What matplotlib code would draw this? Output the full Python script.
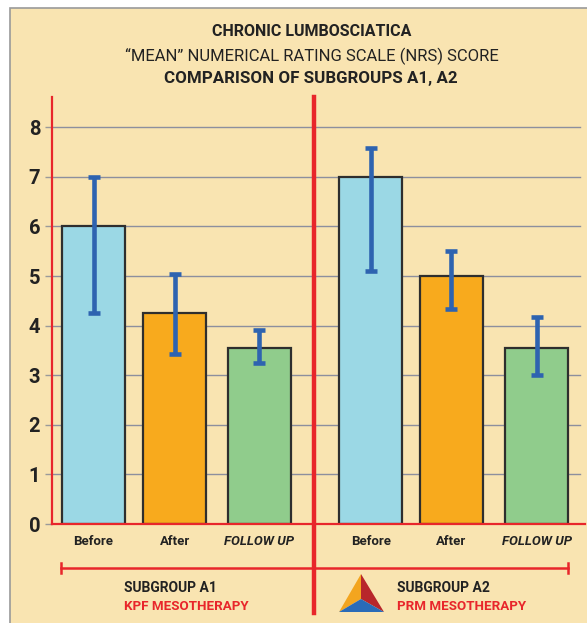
import numpy as np
import matplotlib.pyplot as plt
from matplotlib.patches import Rectangle, Polygon
from matplotlib.lines import Line2D

# data
# ---
categories = ['Before', 'After', 'FOLLOW UP', 'Before', 'After', 'FOLLOW UP']
means = [6.0, 4.25, 3.55, 7.0, 5.0, 3.55]
err_low = [4.25, 3.42, 3.25, 5.1, 4.33, 3.0]
err_high = [7.0, 5.05, 3.92, 7.58, 5.5, 4.17]
yticks = [0, 1, 2, 3, 4, 5, 6, 7, 8]

# styles
bg = '#f9e4b1'
red = '#e8262b'
blue_err = '#2e63b0'
bar_colours = ['#9bd8e5', '#f8aa1d', '#90cc8c'] * 2
xpos = [0, 0.99, 2.02, 3.38, 4.36, 5.40]
W, H = 587, 623
font = ['Roboto', 'DejaVu Sans']

fig = plt.figure(figsize=(W / 100, H / 100), dpi=100)
fig.patch.set_facecolor('white')

# tan panel with grey frame
fig.patches.append(Rectangle((10 / W, -0.01), 1, 1.01 - 8 / H, transform=fig.transFigure,
                             facecolor=bg, edgecolor='#9a9a9a', lw=1.2, zorder=-5))

def fx(px):
    return px / W

def fy(py):
    return 1 - py / H

ax = fig.add_axes([fx(52), fy(524), fx(585) - fx(52), fy(97) - fy(524)])
ax.set_zorder(2)
ax.set_facecolor('none')
ax.set_xlim(-0.506, 5.99)
ax.set_ylim(0, 8.61)

# grid lines
for t in yticks[1:]:
    ax.axhline(t, xmax=(580 - 52) / (585 - 52), color='#8d8f9e', lw=1.0, zorder=1)

ax.bar(xpos, means, width=0.77, color=bar_colours, edgecolor='#2e2e2e', lw=1.6, zorder=2)
yerr = [np.array(means) - np.array(err_low), np.array(err_high) - np.array(means)]
ax.errorbar(xpos, means, yerr=yerr, fmt='none', ecolor=blue_err, elinewidth=3.3,
            capsize=4.5, capthick=3.3, zorder=3)

for s in ['top', 'right']:
    ax.spines[s].set_visible(False)
ax.spines['left'].set_color(red)
ax.spines['left'].set_linewidth(1.6)
ax.spines['bottom'].set_color(red)
ax.spines['bottom'].set_linewidth(1.6)
ax.spines['bottom'].set_zorder(4)

ax.set_yticks(yticks)
ax.set_yticklabels([str(t) for t in yticks], fontsize=14.5, fontweight='bold', color='#222222',
                   family=font)
ax.tick_params(axis='y', length=5, width=1, color='#9a9a9a', pad=3.5)
ax.set_xticks(xpos)
ax.set_xticklabels(categories, fontsize=9.5, fontweight='bold', color='#222222', family=font)
for lab in ax.get_xticklabels():
    if lab.get_text() == 'FOLLOW UP':
        lab.set_fontstyle('italic')
ax.tick_params(axis='x', length=0, pad=8)

# titles
fig.text(fx(312), fy(32), 'CHRONIC LUMBOSCIATICA', ha='center', va='center',
         fontsize=11.5, fontweight='bold', color='#222222', family=font)
fig.text(fx(312), fy(56), '\u201cMEAN\u201d NUMERICAL RATING SCALE (NRS) SCORE', ha='center',
         va='center', fontsize=12, color='#222222', family=font)
fig.text(fx(311), fy(79), 'COMPARISON OF SUBGROUPS A1, A2', ha='center', va='center',
         fontsize=12.2, fontweight='bold', color='#222222', family=font)

# separator and bracket
fig.lines.append(Line2D([fx(314), fx(314)], [fy(97), fy(613)], transform=fig.transFigure,
                        color=red, lw=3.2, zorder=5))
fig.lines.append(Line2D([fx(61), fx(568)], [fy(568), fy(568)], transform=fig.transFigure,
                        color=red, lw=1.8, zorder=5))
for xe in [61, 568]:
    fig.lines.append(Line2D([fx(xe), fx(xe)], [fy(563), fy(573)], transform=fig.transFigure,
                            color=red, lw=1.8, zorder=5))

# subgroup labels
fig.text(fx(124), fy(588), 'SUBGROUP A1', ha='left', va='center', fontsize=10,
         fontweight='bold', color='#222222', family=font)
fig.text(fx(124), fy(607), 'KPF MESOTHERAPY', ha='left', va='center', fontsize=9.6,
         fontweight='bold', color=red, family=font)
fig.text(fx(397), fy(588), 'SUBGROUP A2', ha='left', va='center', fontsize=10,
         fontweight='bold', color='#222222', family=font)
fig.text(fx(397), fy(607), 'PRM MESOTHERAPY', ha='left', va='center', fontsize=9.6,
         fontweight='bold', color=red, family=font)

# logo triangle
apex = (fx(361), fy(574))
bl = (fx(339), fy(612))
br = (fx(384), fy(612))
mid = (fx(361), fy(599))
for pts, c in [([apex, bl, mid], '#f3a51f'), ([apex, br, mid], '#b8262b'),
               ([bl, br, mid], '#2a6bb8')]:
    fig.patches.append(Polygon(pts, closed=True, transform=fig.transFigure,
                               facecolor=c, edgecolor='none', zorder=5))

fig.savefig('out.png', dpi=100, facecolor=fig.get_facecolor())
